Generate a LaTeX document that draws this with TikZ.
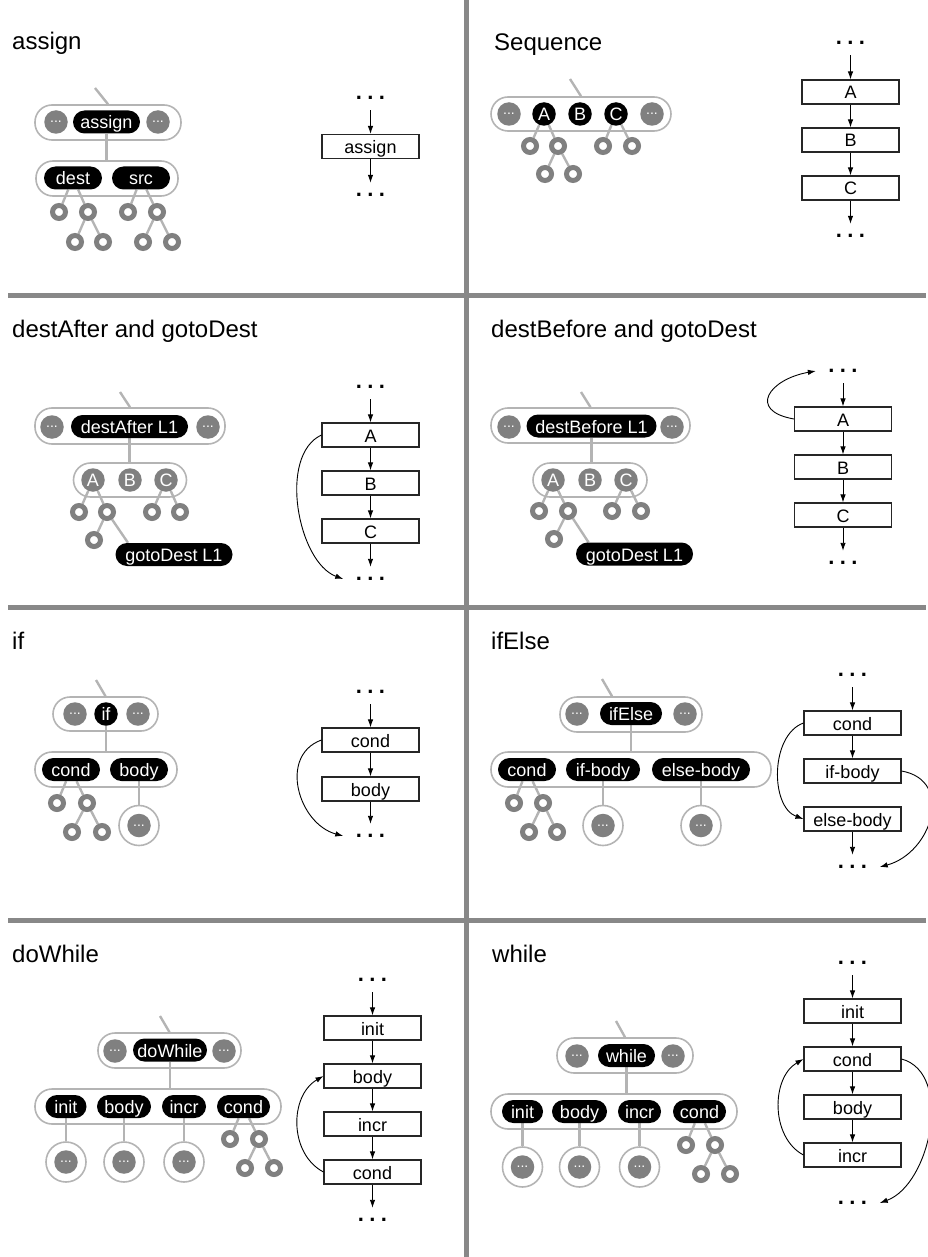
\documentclass[tikz,border=0pt]{standalone}
\usepackage{fontspec}
\setmainfont{Liberation Sans}
\usetikzlibrary{arrows.meta}
\pgfdeclarelayer{bg}
\pgfsetlayers{bg,main}
\definecolor{linegray}{RGB}{180,180,180}
\definecolor{nodegray}{RGB}{128,128,128}
\definecolor{framegray}{RGB}{136,136,136}
\newcommand{\titlefont}{\fontsize{24}{28}\selectfont}
\newcommand{\labelfont}{\fontsize{18}{21}\selectfont}
\newcommand{\ellfont}{\fontsize{14}{16}\selectfont}
\newcommand{\dotfont}{\fontsize{22}{24}\selectfont\bfseries}
\newcommand{\flowdots}{.\kern5.4pt.\kern5.4pt.}
\tikzset{
  gridline/.style={draw=framegray, line width=4.5pt},
  paneltitle/.style={anchor=base west, font=\titlefont, inner sep=0pt},
  capsule/.style={draw=linegray, line width=1.6pt, rounded corners=17pt, minimum height=35pt, inner sep=0pt},
  pill/.style={fill=black, text=white, font=\labelfont, rounded corners=11.5pt, minimum height=23pt, inner sep=0pt, text height=14.5pt, text depth=0.5pt},
  blackdisc/.style={circle, fill=black, text=white, font=\labelfont, minimum size=23.5pt, inner sep=0pt},
  graydisc/.style={circle, fill=nodegray, text=white, font=\labelfont, minimum size=23.5pt, inner sep=0pt},
  elided/.style={circle, fill=nodegray, text=white, font=\ellfont, minimum size=23.5pt, inner sep=0pt},
  halo/.style={circle, draw=linegray, fill=white, line width=1.6pt, minimum size=40pt, inner sep=0pt},
  leaf/.style={circle, draw=nodegray, fill=white, line width=5pt, minimum size=13pt, inner sep=0pt},
  treeline/.style={draw=linegray, line width=2.4pt},
  stepbox/.style={draw=black!85, line width=1.1pt, minimum width=97pt, minimum height=24pt, inner sep=0pt, font=\labelfont, text height=14.5pt, text depth=0.5pt},
  dotsnode/.style={font=\dotfont, minimum width=54pt, minimum height=24pt, inner sep=0pt},
  flowarrow/.style={-{Latex[length=8pt,width=5.5pt]}, line width=0.9pt},
}
\begin{document}
\begin{tikzpicture}[x=1pt,y=-1pt]
\useasboundingbox (0,0) rectangle (928,1257);

% frame separating the eight panels
\draw[gridline] (466.5,0) -- (466.5,1257);
\draw[gridline] (8,295.5) -- (926,295.5);
\draw[gridline] (8,607.5) -- (926,607.5);
\draw[gridline] (8,920.5) -- (926,920.5);

% ---------------- assign ----------------
\node[paneltitle] (t1) at (12,50) {assign};
\coordinate (p1s) at (95,88);
\node[capsule, minimum width=146pt] (p1c) at (108,122.5) {};
\node[elided] (p1l) at (56,122) {...};
\node[pill, minimum width=67pt] (p1n) at (106.5,122) {assign};
\node[elided] (p1r) at (158,122) {...};
\node[capsule, minimum width=142pt] (p1k) at (107,178.5) {};
\node[pill, minimum width=58pt] (p1d) at (73,178) {dest};
\node[pill, minimum width=58pt] (p1src) at (141,178) {src};
\node[leaf] (p1a) at (59,212) {};
\node[leaf] (p1b) at (88,212) {};
\node[leaf] (p1e) at (128,212) {};
\node[leaf] (p1f) at (157,212) {};
\node[leaf] (p1g) at (75,242) {};
\node[leaf] (p1h) at (103,242) {};
\node[leaf] (p1i) at (143,242) {};
\node[leaf] (p1j) at (172,242) {};
\begin{pgfonlayer}{bg}
\draw[treeline] (p1s) -- (p1c.north);
\draw[treeline] (p1n.south) -- (p1n.south |- p1k.north);
\draw[treeline] (p1d) -- (p1a);
\draw[treeline] (p1d) -- (p1b);
\draw[treeline] (p1b) -- (p1g);
\draw[treeline] (p1b) -- (p1h);
\draw[treeline] (p1src) -- (p1e);
\draw[treeline] (p1src) -- (p1f);
\draw[treeline] (p1f) -- (p1i);
\draw[treeline] (p1f) -- (p1j);
\end{pgfonlayer}
\node[dotsnode] (p1ft) at (370.5,98) {\flowdots};
\node[stepbox] (p1fa) at (370.5,146.5) {assign};
\node[dotsnode] (p1fb) at (370.5,195) {\flowdots};
\draw[flowarrow] (p1ft) -- (p1fa);
\draw[flowarrow] (p1fa) -- (p1fb);

% ---------------- Sequence ----------------
\node[paneltitle] (t2) at (494,51) {Sequence};
\coordinate (p2s) at (570,79);
\node[capsule, minimum width=180pt, minimum height=34pt] (p2c) at (581,114) {};
\node[elided] (p2l) at (509,114) {...};
\node[blackdisc] (p2A) at (544,114) {A};
\node[blackdisc] (p2B) at (580,114) {B};
\node[blackdisc] (p2C) at (616,114) {C};
\node[elided] (p2r) at (652,114) {...};
\node[leaf] (p2a) at (530,146) {};
\node[leaf] (p2b) at (558,146) {};
\node[leaf] (p2e) at (603,146) {};
\node[leaf] (p2f) at (632,146) {};
\node[leaf] (p2g) at (545,174) {};
\node[leaf] (p2h) at (573,174) {};
\begin{pgfonlayer}{bg}
\draw[treeline] (p2s) -- (p2c.north);
\draw[treeline] (p2A) -- (p2a);
\draw[treeline] (p2A) -- (p2b);
\draw[treeline] (p2b) -- (p2g);
\draw[treeline] (p2b) -- (p2h);
\draw[treeline] (p2C) -- (p2e);
\draw[treeline] (p2C) -- (p2f);
\end{pgfonlayer}
\node[dotsnode] (p2ft) at (850.5,43) {\flowdots};
\node[stepbox] (p2fA) at (850.5,92) {A};
\node[stepbox] (p2fB) at (850.5,140) {B};
\node[stepbox] (p2fC) at (850.5,188) {C};
\node[dotsnode] (p2fb) at (850.5,236) {\flowdots};
\draw[flowarrow] (p2ft) -- (p2fA);
\draw[flowarrow] (p2fA) -- (p2fB);
\draw[flowarrow] (p2fB) -- (p2fC);
\draw[flowarrow] (p2fC) -- (p2fb);

% ---------------- destAfter and gotoDest ----------------
\node[paneltitle] (t3) at (12,337) {destAfter and gotoDest};
\coordinate (p3s) at (120,392);
\node[capsule, minimum width=190pt, minimum height=36pt] (p3c) at (130,426) {};
\node[elided] (p3l) at (52,427) {...};
\node[pill, minimum width=117pt] (p3n) at (129.5,426.5) {destAfter L1};
\node[elided] (p3r) at (208,427) {...};
\node[capsule, minimum width=113pt, minimum height=34pt] (p3k) at (130,480) {};
\node[graydisc] (p3A) at (93,480) {A};
\node[graydisc] (p3B) at (130,480) {B};
\node[graydisc] (p3C) at (166,480) {C};
\node[leaf] (p3a) at (79,512) {};
\node[leaf] (p3b) at (107,512) {};
\node[leaf] (p3e) at (152,512) {};
\node[leaf] (p3f) at (180,512) {};
\node[leaf] (p3g) at (94,540) {};
\node[pill, minimum width=117pt] (p3go) at (174,554.5) {gotoDest L1};
\begin{pgfonlayer}{bg}
\draw[treeline] (p3s) -- (p3c.north);
\draw[treeline] (p3n.south) -- (p3n.south |- p3k.north);
\draw[treeline] (p3A) -- (p3a);
\draw[treeline] (p3A) -- (p3b);
\draw[treeline] (p3b) -- (p3g);
\draw[treeline] (p3b) -- ([xshift=-46pt]p3go.north);
\draw[treeline] (p3C) -- (p3e);
\draw[treeline] (p3C) -- (p3f);
\end{pgfonlayer}
\node[dotsnode] (p3ft) at (370.5,387) {\flowdots};
\node[stepbox] (p3fA) at (370.5,435) {A};
\node[stepbox] (p3fB) at (370.5,483) {B};
\node[stepbox] (p3fC) at (370.5,531) {C};
\node[dotsnode] (p3fb) at (370.5,579) {\flowdots};
\draw[flowarrow] (p3ft) -- (p3fA);
\draw[flowarrow] (p3fA) -- (p3fB);
\draw[flowarrow] (p3fB) -- (p3fC);
\draw[flowarrow] (p3fC) -- (p3fb);
\draw[flowarrow] (p3fA.west) to[out=205, in=160, looseness=0.85] (p3fb.west);

% ---------------- destBefore and gotoDest ----------------
\node[paneltitle] (t4) at (491,337) {destBefore and gotoDest};
\coordinate (p4s) at (581,392);
\node[capsule, minimum width=199pt] (p4c) at (590.5,425.5) {};
\node[elided] (p4l) at (509,427) {...};
\node[pill, minimum width=130pt] (p4n) at (591.5,426) {destBefore L1};
\node[elided] (p4r) at (672,427) {...};
\node[capsule, minimum width=114pt, minimum height=34pt] (p4k) at (590,480) {};
\node[graydisc] (p4A) at (553,480) {A};
\node[graydisc] (p4B) at (590,480) {B};
\node[graydisc] (p4C) at (626,480) {C};
\node[leaf] (p4a) at (539,511) {};
\node[leaf] (p4b) at (568,511) {};
\node[leaf] (p4e) at (612,511) {};
\node[leaf] (p4f) at (641,511) {};
\node[leaf] (p4g) at (554,539) {};
\node[pill, minimum width=117pt] (p4go) at (634.5,554) {gotoDest L1};
\begin{pgfonlayer}{bg}
\draw[treeline] (p4s) -- (p4c.north);
\draw[treeline] (p4n.south) -- (p4n.south |- p4k.north);
\draw[treeline] (p4A) -- (p4a);
\draw[treeline] (p4A) -- (p4b);
\draw[treeline] (p4b) -- (p4g);
\draw[treeline] (p4b) -- ([xshift=-46pt]p4go.north);
\draw[treeline] (p4C) -- (p4e);
\draw[treeline] (p4C) -- (p4f);
\end{pgfonlayer}
\node[dotsnode] (p4ft) at (843,371) {\flowdots};
\node[stepbox] (p4fA) at (843,419) {A};
\node[stepbox] (p4fB) at (843,467) {B};
\node[stepbox] (p4fC) at (843,515) {C};
\node[dotsnode] (p4fb) at (843,563) {\flowdots};
\draw[flowarrow] (p4ft) -- (p4fA);
\draw[flowarrow] (p4fA) -- (p4fB);
\draw[flowarrow] (p4fB) -- (p4fC);
\draw[flowarrow] (p4fC) -- (p4fb);
\draw[flowarrow] (p4fA.west) to[out=170, in=190, looseness=2.3] (p4ft.west);

% ---------------- if ----------------
\node[paneltitle] (t5) at (12,649) {if};
\coordinate (p5s) at (96,680);
\node[capsule, minimum width=105pt, minimum height=34pt] (p5c) at (105.5,714) {};
\node[elided] (p5l) at (75,714) {...};
\node[blackdisc] (p5n) at (106,714) {if};
\node[elided] (p5r) at (138,714) {...};
\node[capsule, minimum width=142pt] (p5k) at (106,769.5) {};
\node[pill, minimum width=58pt] (p5cond) at (71,769.5) {cond};
\node[pill, minimum width=58pt] (p5body) at (139,769.5) {body};
\node[leaf] (p5a) at (57,803) {};
\node[leaf] (p5b) at (87,803) {};
\node[leaf] (p5g) at (72,832) {};
\node[leaf] (p5h) at (102,832) {};
\node[halo] (p5o) at (139,825.5) {};
\node[elided] (p5x) at (p5o.center) {...};
\begin{pgfonlayer}{bg}
\draw[treeline] (p5s) -- (p5c.north);
\draw[treeline] (p5n.south) -- (p5n.south |- p5k.north);
\draw[treeline] (p5cond) -- (p5a);
\draw[treeline] (p5cond) -- (p5b);
\draw[treeline] (p5b) -- (p5g);
\draw[treeline] (p5b) -- (p5h);
\draw[treeline] (p5body) -- (p5o);
\end{pgfonlayer}
\node[dotsnode] (p5ft) at (370.5,692) {\flowdots};
\node[stepbox] (p5fc) at (370.5,740) {cond};
\node[stepbox] (p5fb) at (370.5,789) {body};
\node[dotsnode] (p5fe) at (370.5,836) {\flowdots};
\draw[flowarrow] (p5ft) -- (p5fc);
\draw[flowarrow] (p5fc) -- (p5fb);
\draw[flowarrow] (p5fb) -- (p5fe);
\draw[flowarrow] (p5fc.west) to[out=200, in=165, looseness=1.2] (p5fe.west);

% ---------------- ifElse ----------------
\node[paneltitle] (t6) at (491,649) {ifElse};
\coordinate (p6s) at (602,679);
\node[capsule, minimum width=142pt] (p6c) at (631,714.5) {};
\node[elided] (p6l) at (577,714) {...};
\node[pill, minimum width=62pt] (p6n) at (631,713.5) {ifElse};
\node[elided] (p6r) at (685,714) {...};
\node[capsule, minimum width=280pt] (p6k) at (631,769.5) {};
\node[pill, minimum width=58pt] (p6cond) at (527,769.5) {cond};
\node[pill, minimum width=74pt] (p6if) at (603,769.5) {if-body};
\node[pill, minimum width=98pt] (p6else) at (701,769.5) {else-body};
\node[leaf] (p6a) at (514,803) {};
\node[leaf] (p6b) at (543,803) {};
\node[leaf] (p6g) at (529,832) {};
\node[leaf] (p6h) at (557,832) {};
\node[halo] (p6o) at (603,825.5) {};
\node[elided] (p6x) at (p6o.center) {...};
\node[halo] (p6p) at (701,825.5) {};
\node[elided] (p6y) at (p6p.center) {...};
\begin{pgfonlayer}{bg}
\draw[treeline] (p6s) -- ([xshift=-19pt]p6c.north);
\draw[treeline] (p6n.south) -- (p6n.south |- p6k.north);
\draw[treeline] (p6cond) -- (p6a);
\draw[treeline] (p6cond) -- (p6b);
\draw[treeline] (p6b) -- (p6g);
\draw[treeline] (p6b) -- (p6h);
\draw[treeline] (p6if) -- (p6o);
\draw[treeline] (p6else) -- (p6p);
\end{pgfonlayer}
\node[dotsnode] (p6ft) at (852.5,675) {\flowdots};
\node[stepbox] (p6fc) at (852.5,723) {cond};
\node[stepbox] (p6fi) at (852.5,771) {if-body};
\node[stepbox] (p6fe) at (852.5,819) {else-body};
\node[dotsnode] (p6fb) at (852.5,867) {\flowdots};
\draw[flowarrow] (p6ft) -- (p6fc);
\draw[flowarrow] (p6fc) -- (p6fi);
\draw[flowarrow] (p6fe) -- (p6fb);
\draw[flowarrow] (p6fc.west) to[out=200, in=160, looseness=0.95] (p6fe.west);
\draw[flowarrow] (p6fi.east) to[out=350, in=15, looseness=1.4] (p6fb.east);

% ---------------- doWhile ----------------
\node[paneltitle] (t7) at (12,962) {doWhile};
\coordinate (p7s) at (160,1016);
\node[capsule, minimum width=143pt] (p7c) at (169.5,1050.5) {};
\node[elided] (p7l) at (115,1051) {...};
\node[pill, minimum width=74pt] (p7n) at (170,1050) {doWhile};
\node[elided] (p7r) at (224,1051) {...};
\node[capsule, minimum width=246pt] (p7k) at (158,1106.5) {};
\node[pill, minimum width=41pt] (p7init) at (66,1106.5) {init};
\node[pill, minimum width=54pt] (p7body) at (124,1106.5) {body};
\node[pill, minimum width=44pt] (p7incr) at (184,1106.5) {incr};
\node[pill, minimum width=53pt] (p7cond) at (243.5,1106.5) {cond};
\node[halo] (p7o) at (66,1162) {};
\node[elided] (p7x) at (p7o.center) {...};
\node[halo] (p7p) at (124,1162) {};
\node[elided] (p7y) at (p7p.center) {...};
\node[halo] (p7q) at (184,1162) {};
\node[elided] (p7z) at (p7q.center) {...};
\node[leaf] (p7a) at (230,1139) {};
\node[leaf] (p7b) at (259,1139) {};
\node[leaf] (p7g) at (245,1168) {};
\node[leaf] (p7h) at (274,1168) {};
\begin{pgfonlayer}{bg}
\draw[treeline] (p7s) -- (p7c.north);
\draw[treeline] (p7n.south) -- (p7n.south |- p7k.north);
\draw[treeline] (p7init) -- (p7o);
\draw[treeline] (p7body) -- (p7p);
\draw[treeline] (p7incr) -- (p7q);
\draw[treeline] (p7cond) -- (p7a);
\draw[treeline] (p7cond) -- (p7b);
\draw[treeline] (p7b) -- (p7g);
\draw[treeline] (p7b) -- (p7h);
\end{pgfonlayer}
\node[dotsnode] (p7ft) at (372.5,980) {\flowdots};
\node[stepbox] (p7fi) at (372.5,1028) {init};
\node[stepbox] (p7fb) at (372.5,1076) {body};
\node[stepbox] (p7fn) at (372.5,1124) {incr};
\node[stepbox] (p7fc) at (372.5,1172) {cond};
\node[dotsnode] (p7fe) at (372.5,1220) {\flowdots};
\draw[flowarrow] (p7ft) -- (p7fi);
\draw[flowarrow] (p7fi) -- (p7fb);
\draw[flowarrow] (p7fb) -- (p7fn);
\draw[flowarrow] (p7fn) -- (p7fc);
\draw[flowarrow] (p7fc) -- (p7fe);
\draw[flowarrow] (p7fc.west) to[out=152, in=210, looseness=1.05] (p7fb.west);

% ---------------- while ----------------
\node[paneltitle] (t8) at (492,962) {while};
\coordinate (p8s) at (616,1021);
\node[capsule, minimum width=136pt] (p8c) at (625,1055.5) {};
\node[elided] (p8l) at (577,1056) {...};
\node[pill, minimum width=57pt] (p8n) at (626.5,1055.5) {while};
\node[elided] (p8r) at (673,1056) {...};
\node[capsule, minimum width=246pt] (p8k) at (614,1111.5) {};
\node[pill, minimum width=41pt] (p8init) at (522.5,1111.5) {init};
\node[pill, minimum width=55pt] (p8body) at (579.5,1111.5) {body};
\node[pill, minimum width=43pt] (p8incr) at (639.5,1111.5) {incr};
\node[pill, minimum width=53pt] (p8cond) at (699.5,1111.5) {cond};
\node[halo] (p8o) at (522.5,1167) {};
\node[elided] (p8x) at (p8o.center) {...};
\node[halo] (p8p) at (579.5,1167) {};
\node[elided] (p8y) at (p8p.center) {...};
\node[halo] (p8q) at (639.5,1167) {};
\node[elided] (p8z) at (p8q.center) {...};
\node[leaf] (p8a) at (686,1145) {};
\node[leaf] (p8b) at (715,1145) {};
\node[leaf] (p8g) at (701,1174) {};
\node[leaf] (p8h) at (730,1174) {};
\begin{pgfonlayer}{bg}
\draw[treeline] (p8s) -- (p8c.north);
\draw[treeline] (p8n.south) -- (p8n.south |- p8k.north);
\draw[treeline] (p8init) -- (p8o);
\draw[treeline] (p8body) -- (p8p);
\draw[treeline] (p8incr) -- (p8q);
\draw[treeline] (p8cond) -- (p8a);
\draw[treeline] (p8cond) -- (p8b);
\draw[treeline] (p8b) -- (p8g);
\draw[treeline] (p8b) -- (p8h);
\end{pgfonlayer}
\node[dotsnode] (p8ft) at (852.5,963) {\flowdots};
\node[stepbox] (p8fi) at (852.5,1011) {init};
\node[stepbox] (p8fc) at (852.5,1059) {cond};
\node[stepbox] (p8fb) at (852.5,1107) {body};
\node[stepbox] (p8fn) at (852.5,1155) {incr};
\node[dotsnode] (p8fe) at (852.5,1203) {\flowdots};
\draw[flowarrow] (p8ft) -- (p8fi);
\draw[flowarrow] (p8fi) -- (p8fc);
\draw[flowarrow] (p8fc) -- (p8fb);
\draw[flowarrow] (p8fb) -- (p8fn);
\draw[flowarrow] (p8fn.west) to[out=152, in=210, looseness=1.0] (p8fc.west);
\draw[flowarrow] (p8fc.east) to[out=345, in=20, looseness=0.95] (p8fe.east);
\end{tikzpicture}
\end{document}
